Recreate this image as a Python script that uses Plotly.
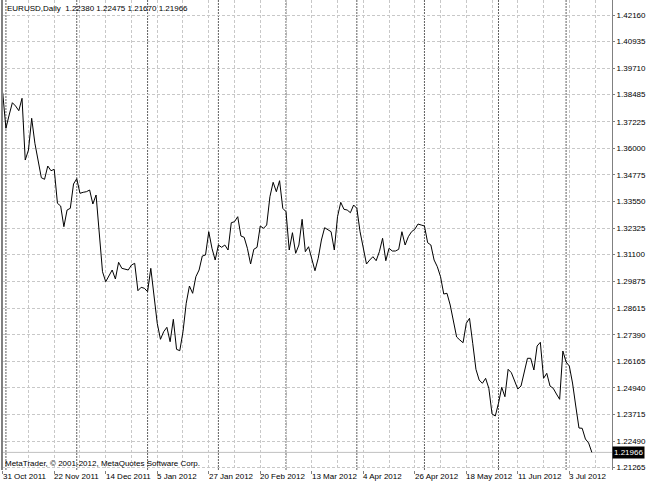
from datetime import datetime
import pandas as pd
import plotly.graph_objects as go

# ---------------- data ----------------
dates = pd.bdate_range("2011-10-31", "2012-07-12")  # daily bars (weekdays)

closes = [
    1.38573, 1.36929, 1.37543, 1.38111, 1.37959, 1.37742, 1.38314, 1.35465, 1.35927, 1.37391,
    1.36236, 1.35387, 1.34648, 1.34574, 1.35188, 1.34971, 1.35036, 1.33466, 1.33342, 1.32386,
    1.33157, 1.33235, 1.34357, 1.34602, 1.33928, 1.33974, 1.34002, 1.34080, 1.33434, 1.33849,
    1.32081, 1.30308, 1.29846, 1.30156, 1.30387, 1.29971, 1.30742, 1.30465, 1.30433, 1.30387,
    1.30617, 1.30696, 1.29431, 1.29588, 1.29542, 1.29385, 1.30465, 1.29311, 1.27926, 1.27187,
    1.27538, 1.27741, 1.27076, 1.28110, 1.26725, 1.26661, 1.27538, 1.28849, 1.29648, 1.29311,
    1.30077, 1.30387, 1.31033, 1.31079, 1.32155, 1.31388, 1.30848, 1.31541, 1.31435, 1.31541,
    1.31310, 1.32570, 1.32617, 1.32848, 1.31956, 1.31896, 1.31388, 1.30664, 1.31342, 1.31435,
    1.32418, 1.32312, 1.32464, 1.33771, 1.34436, 1.34002, 1.34510, 1.33235, 1.33078, 1.31310,
    1.32109, 1.31158, 1.31541, 1.32727, 1.31232, 1.31462, 1.30927, 1.30354, 1.30927, 1.31772,
    1.32340, 1.32266, 1.32155, 1.31310, 1.32848, 1.33512, 1.33189, 1.33157, 1.33032, 1.33388,
    1.33235, 1.32155, 1.31310, 1.30664, 1.30848, 1.31001, 1.30816, 1.31232, 1.31850, 1.30816,
    1.31388, 1.31264, 1.31264, 1.31342, 1.32155, 1.31541, 1.31924, 1.32155, 1.32266, 1.32510,
    1.32464, 1.32418, 1.31647, 1.31541, 1.30848, 1.30539, 1.30077, 1.29279, 1.29311, 1.28771,
    1.28032, 1.27293, 1.27155, 1.27030, 1.27926, 1.28157, 1.27002, 1.25802, 1.25308, 1.25156,
    1.25386, 1.24925, 1.23738, 1.23646, 1.24232, 1.24971, 1.24537, 1.25802, 1.25645, 1.25229,
    1.24892, 1.25031, 1.25617, 1.26310, 1.26310, 1.25770, 1.26878, 1.27049, 1.25386, 1.25617,
    1.25031, 1.24925, 1.24662, 1.24417, 1.26647, 1.26139, 1.25954, 1.25169, 1.24108, 1.23092,
    1.23078, 1.22584, 1.22399, 1.21966,
]

price_ticks = [1.42160, 1.40935, 1.39710, 1.38485, 1.37225, 1.36000, 1.34775, 1.33550, 1.32325,
               1.31100, 1.29875, 1.28615, 1.27390, 1.26165, 1.24940, 1.23715, 1.22490, 1.21265]

date_tick_labels = ["31 Oct 2011", "22 Nov 2011", "14 Dec 2011", "5 Jan 2012", "27 Jan 2012",
                    "20 Feb 2012", "13 Mar 2012", "4 Apr 2012", "26 Apr 2012", "18 May 2012",
                    "11 Jun 2012", "3 Jul 2012"]

symbol = "EURUSD,Daily"
last_ohlc = [1.22380, 1.22475, 1.21670, 1.21966]
copyright_text = "MetaTrader, \u00a9 2001-2012, MetaQuotes Software Corp."

# ---------------- derived ----------------
n = len(dates)
x_idx = list(range(n))
label_idx = [dates.get_loc(pd.Timestamp(datetime.strptime(s, "%d %b %Y"))) for s in date_tick_labels]
month_idx = [i for i in range(1, n) if dates[i].month != dates[i - 1].month]
grid_step = 8
minor_idx = [i for i in range(0, 200, grid_step) if i not in label_idx]

FONT = "Liberation Sans, Arial, sans-serif"
FS = 8
GRID = "#c8c8c8"

fig = go.Figure()
fig.add_trace(go.Scatter(x=x_idx, y=closes, mode="lines",
                         line=dict(color="#000000", width=1), hoverinfo="skip"))

shapes = []
# month separators
for i in month_idx:
    shapes.append(dict(type="line", xref="x", yref="paper", x0=i, x1=i, y0=0, y1=1,
                       line=dict(color="#606060", width=1, dash="2px,1px"), layer="below"))
# current price line
shapes.append(dict(type="line", xref="paper", yref="y", x0=0, x1=1, y0=closes[-1], y1=closes[-1],
                   line=dict(color="#c0c0c0", width=1), layer="below"))
# left frame
shapes.append(dict(type="line", xref="paper", yref="paper", x0=0, x1=0, y0=0, y1=1,
                   line=dict(color="#808080", width=2)))

annotations = []
annotations.append(dict(xref="paper", yref="paper", x=0, y=1, xanchor="left", yanchor="top",
                        xshift=3, yshift=-2, showarrow=False,
                        text=symbol + "\u00a0\u00a0" + " ".join(f"{v:.5f}" for v in last_ohlc),
                        font=dict(family=FONT, size=FS, color="#000000")))
annotations.append(dict(xref="paper", yref="paper", x=0, y=0, xanchor="left", yanchor="bottom",
                        xshift=1, yshift=0, showarrow=False, text=copyright_text,
                        font=dict(family=FONT, size=FS, color="#000000")))
for i, lab in zip(label_idx, date_tick_labels):
    annotations.append(dict(xref="x", yref="paper", x=i, y=0, xanchor="left", yanchor="top",
                            xshift=-2, yshift=0, showarrow=False, text=lab,
                            font=dict(family=FONT, size=FS, color="#000000")))
annotations.append(dict(xref="paper", yref="y", x=1, y=closes[-1], xanchor="left", yanchor="middle",
                        xshift=0, showarrow=False, text=f"{closes[-1]:.5f}", bgcolor="#000000",
                        borderpad=1, font=dict(family=FONT, size=FS, color="#ffffff")))

fig.update_layout(
    width=646, height=485,
    margin=dict(l=2, r=32, t=0, b=15),
    paper_bgcolor="#ffffff", plot_bgcolor="#ffffff",
    showlegend=False,
    shapes=shapes, annotations=annotations,
    font=dict(family=FONT, size=FS, color="#000000"),
)
fig.update_xaxes(
    range=[-0.22, 189.26], tickmode="array", tickvals=label_idx, showticklabels=False,
    ticks="outside", ticklen=3, tickcolor="#808080",
    showgrid=True, gridcolor=GRID, griddash="3px,2px", gridwidth=1,
    minor=dict(tickmode="array", tickvals=minor_idx, showgrid=True, gridcolor=GRID,
               griddash="3px,2px", gridwidth=1, ticks=""),
    zeroline=False, showline=False, fixedrange=True,
)
fig.update_yaxes(
    side="right", range=[1.21153, 1.42853], tickmode="array", tickvals=price_ticks,
    ticktext=[f"{v:.5f}" for v in price_ticks],
    ticks="outside", ticklen=2, tickcolor="#808080",
    showgrid=True, gridcolor=GRID, griddash="3px,2px", gridwidth=1,
    showline=True, linecolor="#808080", linewidth=1,
    zeroline=False, fixedrange=True,
    tickfont=dict(family=FONT, size=FS, color="#000000"),
)

fig.write_html("out.html", post_script="document.body.style.margin='0';document.body.style.padding='0';",
               config={"displayModeBar": False})
